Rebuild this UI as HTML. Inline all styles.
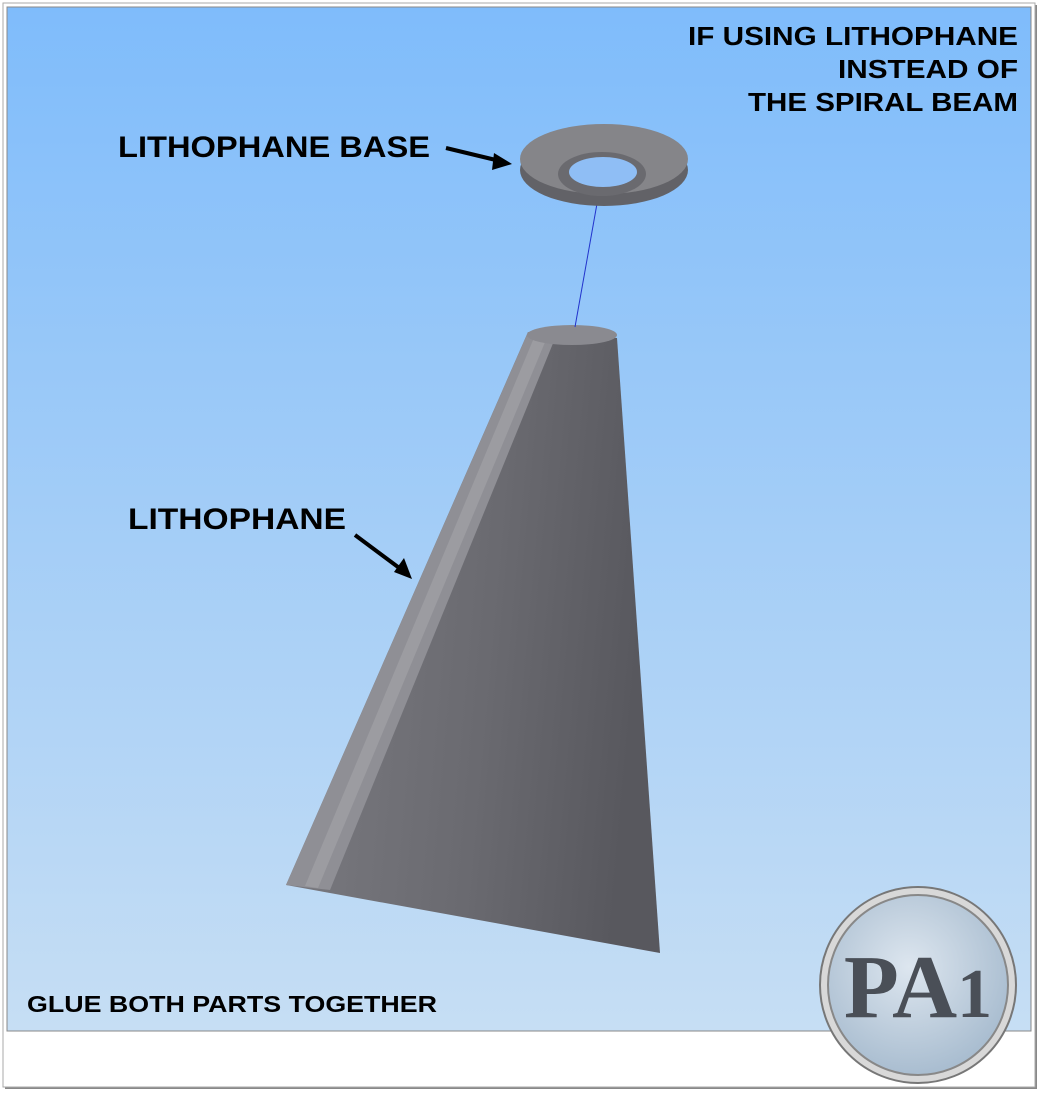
<!DOCTYPE html>
<html><head><meta charset="utf-8"><style>
html,body{margin:0;padding:0;background:#fff;width:1044px;height:1094px;overflow:hidden}
</style></head><body>
<svg width="1044" height="1094" viewBox="0 0 1044 1094" xmlns="http://www.w3.org/2000/svg" style="display:block">
<defs>
<linearGradient id="bg" x1="0" y1="0" x2="0" y2="1">
<stop offset="0" stop-color="#7fbcfb"/><stop offset="0.5" stop-color="#a3cdf7"/><stop offset="1" stop-color="#c6def4"/>
</linearGradient>
<linearGradient id="cone" x1="0" y1="0" x2="1" y2="0.15">
<stop offset="0" stop-color="#7c7c82"/><stop offset="0.6" stop-color="#6a6a70"/><stop offset="1" stop-color="#58585e"/>
</linearGradient>
<radialGradient id="logo" cx="0.45" cy="0.4" r="0.6">
<stop offset="0" stop-color="#dde6ef"/><stop offset="1" stop-color="#a9bdd0"/>
</radialGradient>
</defs>
<rect x="5" y="5" width="1032" height="1084" fill="#888"/>
<rect x="3" y="3" width="1032" height="1084" fill="#fff" stroke="#aaa"/>
<rect x="7" y="7" width="1024" height="1024" fill="url(#bg)" stroke="#888"/>
<!-- cone -->
<polygon points="528,332 617,338 660,953 286,885" fill="url(#cone)"/>
<polygon points="528,332 556,336 330,890 286,885" fill="#8f8f95"/>
<polygon points="536,333 548,335 318,888 305,886" fill="#9c9ca1"/>
<ellipse cx="572" cy="335" rx="45" ry="10" fill="#8a8a90"/>
<!-- blue line -->
<line x1="603" y1="170" x2="575" y2="327" stroke="#2233cc" stroke-width="1"/>
<!-- ring -->
<ellipse cx="604" cy="170" rx="84" ry="36" fill="#626267"/>
<ellipse cx="604" cy="159" rx="84" ry="35" fill="#858589"/>
<ellipse cx="602" cy="174" rx="44" ry="22" fill="#6a6a6f"/>
<ellipse cx="603" cy="172" rx="34" ry="15" fill="#8fbef5"/>
<!-- arrows -->
<line x1="446" y1="148" x2="500" y2="161" stroke="#000" stroke-width="4"/>
<polygon points="512,164 494,153 492,170" fill="#000"/>
<line x1="355" y1="535" x2="402" y2="570" stroke="#000" stroke-width="4"/>
<polygon points="412,579 394,572 404,558" fill="#000"/>
<!-- text -->
<g font-family="Liberation Sans, sans-serif" font-weight="bold" fill="#000">
<text x="688" y="45" font-size="26" textLength="330" lengthAdjust="spacingAndGlyphs">IF USING LITHOPHANE</text>
<text x="838" y="78" font-size="26" textLength="180" lengthAdjust="spacingAndGlyphs">INSTEAD OF</text>
<text x="748" y="111" font-size="26" textLength="270" lengthAdjust="spacingAndGlyphs">THE SPIRAL BEAM</text>
<text x="118" y="157" font-size="30" textLength="312" lengthAdjust="spacingAndGlyphs">LITHOPHANE BASE</text>
<text x="128" y="529" font-size="30" textLength="218" lengthAdjust="spacingAndGlyphs">LITHOPHANE</text>
<text x="27" y="1012" font-size="23" textLength="410" lengthAdjust="spacingAndGlyphs">GLUE BOTH PARTS TOGETHER</text>
</g>
<!-- logo -->
<circle cx="918" cy="985" r="98" fill="#d8d8d8" stroke="#777" stroke-width="2"/>
<circle cx="918" cy="985" r="90" fill="url(#logo)" stroke="#888" stroke-width="2"/>
<text x="918" y="1017" font-family="Liberation Serif, serif" font-weight="bold" font-size="90" fill="#4a4f57" text-anchor="middle">PA<tspan font-size="70">1</tspan></text>
</svg>
</body></html>
